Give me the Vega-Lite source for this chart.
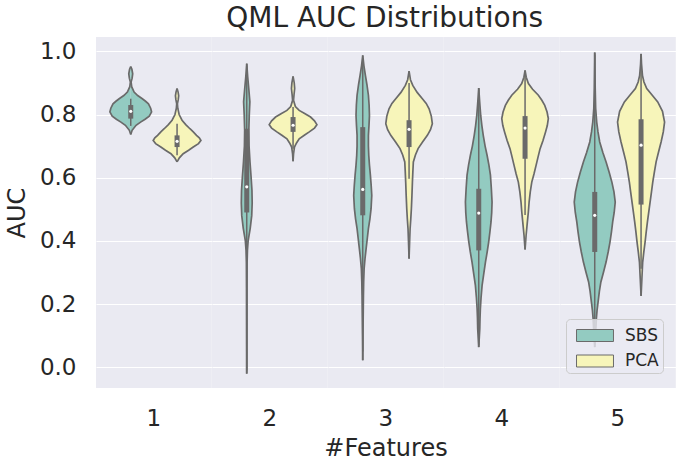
{
"$schema": "https://vega.github.io/schema/vega-lite/v6.json",
"padding": 5,
"title": {"text": "QML AUC Distributions", "fontSize": 28, "font": "DejaVu Sans", "fontWeight": "normal", "color": "#262626", "anchor": "middle", "offset": 4, "dx": 44},
"data": {"values": [
{"kind":"v","feature":1,"method":"SBS","auc":0.737,"w":0},
{"kind":"v","feature":1,"method":"SBS","auc":0.750,"w":0.012},
{"kind":"v","feature":1,"method":"SBS","auc":0.766,"w":0.046},
{"kind":"v","feature":1,"method":"SBS","auc":0.776,"w":0.085},
{"kind":"v","feature":1,"method":"SBS","auc":0.785,"w":0.124},
{"kind":"v","feature":1,"method":"SBS","auc":0.795,"w":0.160},
{"kind":"v","feature":1,"method":"SBS","auc":0.808,"w":0.180},
{"kind":"v","feature":1,"method":"SBS","auc":0.820,"w":0.172},
{"kind":"v","feature":1,"method":"SBS","auc":0.834,"w":0.153},
{"kind":"v","feature":1,"method":"SBS","auc":0.842,"w":0.128},
{"kind":"v","feature":1,"method":"SBS","auc":0.850,"w":0.100},
{"kind":"v","feature":1,"method":"SBS","auc":0.860,"w":0.060},
{"kind":"v","feature":1,"method":"SBS","auc":0.871,"w":0.029},
{"kind":"v","feature":1,"method":"SBS","auc":0.888,"w":0.008},
{"kind":"v","feature":1,"method":"SBS","auc":0.903,"w":0.003},
{"kind":"v","feature":1,"method":"SBS","auc":0.915,"w":0.012},
{"kind":"v","feature":1,"method":"SBS","auc":0.929,"w":0.017},
{"kind":"v","feature":1,"method":"SBS","auc":0.943,"w":0.010},
{"kind":"v","feature":1,"method":"SBS","auc":0.952,"w":0},
{"kind":"v","feature":1,"method":"PCA","auc":0.650,"w":0},
{"kind":"v","feature":1,"method":"PCA","auc":0.663,"w":0.020},
{"kind":"v","feature":1,"method":"PCA","auc":0.676,"w":0.053},
{"kind":"v","feature":1,"method":"PCA","auc":0.687,"w":0.100},
{"kind":"v","feature":1,"method":"PCA","auc":0.697,"w":0.140},
{"kind":"v","feature":1,"method":"PCA","auc":0.708,"w":0.185},
{"kind":"v","feature":1,"method":"PCA","auc":0.718,"w":0.206},
{"kind":"v","feature":1,"method":"PCA","auc":0.726,"w":0.192},
{"kind":"v","feature":1,"method":"PCA","auc":0.734,"w":0.168},
{"kind":"v","feature":1,"method":"PCA","auc":0.745,"w":0.140},
{"kind":"v","feature":1,"method":"PCA","auc":0.755,"w":0.111},
{"kind":"v","feature":1,"method":"PCA","auc":0.768,"w":0.075},
{"kind":"v","feature":1,"method":"PCA","auc":0.782,"w":0.043},
{"kind":"v","feature":1,"method":"PCA","auc":0.800,"w":0.018},
{"kind":"v","feature":1,"method":"PCA","auc":0.820,"w":0.006},
{"kind":"v","feature":1,"method":"PCA","auc":0.834,"w":0.003},
{"kind":"v","feature":1,"method":"PCA","auc":0.847,"w":0.010},
{"kind":"v","feature":1,"method":"PCA","auc":0.859,"w":0.014},
{"kind":"v","feature":1,"method":"PCA","auc":0.871,"w":0.009},
{"kind":"v","feature":1,"method":"PCA","auc":0.882,"w":0},
{"kind":"v","feature":2,"method":"SBS","auc":-0.02,"w":0},
{"kind":"v","feature":2,"method":"SBS","auc":0.05,"w":0.001},
{"kind":"v","feature":2,"method":"SBS","auc":0.15,"w":0.0015},
{"kind":"v","feature":2,"method":"SBS","auc":0.25,"w":0.002},
{"kind":"v","feature":2,"method":"SBS","auc":0.33,"w":0.003},
{"kind":"v","feature":2,"method":"SBS","auc":0.37,"w":0.006},
{"kind":"v","feature":2,"method":"SBS","auc":0.40,"w":0.012},
{"kind":"v","feature":2,"method":"SBS","auc":0.44,"w":0.030},
{"kind":"v","feature":2,"method":"SBS","auc":0.48,"w":0.043},
{"kind":"v","feature":2,"method":"SBS","auc":0.52,"w":0.047},
{"kind":"v","feature":2,"method":"SBS","auc":0.56,"w":0.045},
{"kind":"v","feature":2,"method":"SBS","auc":0.60,"w":0.038},
{"kind":"v","feature":2,"method":"SBS","auc":0.65,"w":0.028},
{"kind":"v","feature":2,"method":"SBS","auc":0.70,"w":0.020},
{"kind":"v","feature":2,"method":"SBS","auc":0.75,"w":0.018},
{"kind":"v","feature":2,"method":"SBS","auc":0.80,"w":0.022},
{"kind":"v","feature":2,"method":"SBS","auc":0.84,"w":0.027},
{"kind":"v","feature":2,"method":"SBS","auc":0.88,"w":0.018},
{"kind":"v","feature":2,"method":"SBS","auc":0.92,"w":0.008},
{"kind":"v","feature":2,"method":"SBS","auc":0.961,"w":0},
{"kind":"v","feature":2,"method":"PCA","auc":0.652,"w":0},
{"kind":"v","feature":2,"method":"PCA","auc":0.675,"w":0.004},
{"kind":"v","feature":2,"method":"PCA","auc":0.697,"w":0.012},
{"kind":"v","feature":2,"method":"PCA","auc":0.710,"w":0.030},
{"kind":"v","feature":2,"method":"PCA","auc":0.723,"w":0.053},
{"kind":"v","feature":2,"method":"PCA","auc":0.735,"w":0.100},
{"kind":"v","feature":2,"method":"PCA","auc":0.745,"w":0.140},
{"kind":"v","feature":2,"method":"PCA","auc":0.757,"w":0.185},
{"kind":"v","feature":2,"method":"PCA","auc":0.768,"w":0.206},
{"kind":"v","feature":2,"method":"PCA","auc":0.780,"w":0.185},
{"kind":"v","feature":2,"method":"PCA","auc":0.792,"w":0.151},
{"kind":"v","feature":2,"method":"PCA","auc":0.803,"w":0.100},
{"kind":"v","feature":2,"method":"PCA","auc":0.813,"w":0.053},
{"kind":"v","feature":2,"method":"PCA","auc":0.825,"w":0.020},
{"kind":"v","feature":2,"method":"PCA","auc":0.845,"w":0.004},
{"kind":"v","feature":2,"method":"PCA","auc":0.862,"w":0.008},
{"kind":"v","feature":2,"method":"PCA","auc":0.882,"w":0.014},
{"kind":"v","feature":2,"method":"PCA","auc":0.900,"w":0.010},
{"kind":"v","feature":2,"method":"PCA","auc":0.921,"w":0},
{"kind":"v","feature":3,"method":"SBS","auc":0.022,"w":0},
{"kind":"v","feature":3,"method":"SBS","auc":0.10,"w":0.002},
{"kind":"v","feature":3,"method":"SBS","auc":0.228,"w":0.006},
{"kind":"v","feature":3,"method":"SBS","auc":0.27,"w":0.008},
{"kind":"v","feature":3,"method":"SBS","auc":0.312,"w":0.012},
{"kind":"v","feature":3,"method":"SBS","auc":0.345,"w":0.020},
{"kind":"v","feature":3,"method":"SBS","auc":0.375,"w":0.029},
{"kind":"v","feature":3,"method":"SBS","auc":0.41,"w":0.040},
{"kind":"v","feature":3,"method":"SBS","auc":0.439,"w":0.049},
{"kind":"v","feature":3,"method":"SBS","auc":0.47,"w":0.062},
{"kind":"v","feature":3,"method":"SBS","auc":0.502,"w":0.072},
{"kind":"v","feature":3,"method":"SBS","auc":0.544,"w":0.078},
{"kind":"v","feature":3,"method":"SBS","auc":0.575,"w":0.073},
{"kind":"v","feature":3,"method":"SBS","auc":0.608,"w":0.066},
{"kind":"v","feature":3,"method":"SBS","auc":0.64,"w":0.058},
{"kind":"v","feature":3,"method":"SBS","auc":0.671,"w":0.052},
{"kind":"v","feature":3,"method":"SBS","auc":0.70,"w":0.049},
{"kind":"v","feature":3,"method":"SBS","auc":0.734,"w":0.049},
{"kind":"v","feature":3,"method":"SBS","auc":0.765,"w":0.054},
{"kind":"v","feature":3,"method":"SBS","auc":0.797,"w":0.058},
{"kind":"v","feature":3,"method":"SBS","auc":0.83,"w":0.055},
{"kind":"v","feature":3,"method":"SBS","auc":0.861,"w":0.049},
{"kind":"v","feature":3,"method":"SBS","auc":0.895,"w":0.036},
{"kind":"v","feature":3,"method":"SBS","auc":0.924,"w":0.023},
{"kind":"v","feature":3,"method":"SBS","auc":0.955,"w":0.010},
{"kind":"v","feature":3,"method":"SBS","auc":0.987,"w":0},
{"kind":"v","feature":3,"method":"PCA","auc":0.344,"w":0},
{"kind":"v","feature":3,"method":"PCA","auc":0.40,"w":0.005},
{"kind":"v","feature":3,"method":"PCA","auc":0.439,"w":0.009},
{"kind":"v","feature":3,"method":"PCA","auc":0.47,"w":0.015},
{"kind":"v","feature":3,"method":"PCA","auc":0.502,"w":0.020},
{"kind":"v","feature":3,"method":"PCA","auc":0.545,"w":0.025},
{"kind":"v","feature":3,"method":"PCA","auc":0.586,"w":0.029},
{"kind":"v","feature":3,"method":"PCA","auc":0.62,"w":0.033},
{"kind":"v","feature":3,"method":"PCA","auc":0.650,"w":0.037},
{"kind":"v","feature":3,"method":"PCA","auc":0.672,"w":0.055},
{"kind":"v","feature":3,"method":"PCA","auc":0.692,"w":0.078},
{"kind":"v","feature":3,"method":"PCA","auc":0.712,"w":0.115},
{"kind":"v","feature":3,"method":"PCA","auc":0.734,"w":0.158},
{"kind":"v","feature":3,"method":"PCA","auc":0.752,"w":0.185},
{"kind":"v","feature":3,"method":"PCA","auc":0.771,"w":0.201},
{"kind":"v","feature":3,"method":"PCA","auc":0.795,"w":0.192},
{"kind":"v","feature":3,"method":"PCA","auc":0.818,"w":0.173},
{"kind":"v","feature":3,"method":"PCA","auc":0.835,"w":0.148},
{"kind":"v","feature":3,"method":"PCA","auc":0.850,"w":0.115},
{"kind":"v","feature":3,"method":"PCA","auc":0.870,"w":0.070},
{"kind":"v","feature":3,"method":"PCA","auc":0.892,"w":0.032},
{"kind":"v","feature":3,"method":"PCA","auc":0.910,"w":0.012},
{"kind":"v","feature":3,"method":"PCA","auc":0.937,"w":0},
{"kind":"v","feature":4,"method":"SBS","auc":0.064,"w":0},
{"kind":"v","feature":4,"method":"SBS","auc":0.122,"w":0.009},
{"kind":"v","feature":4,"method":"SBS","auc":0.155,"w":0.011},
{"kind":"v","feature":4,"method":"SBS","auc":0.185,"w":0.014},
{"kind":"v","feature":4,"method":"SBS","auc":0.22,"w":0.020},
{"kind":"v","feature":4,"method":"SBS","auc":0.259,"w":0.029},
{"kind":"v","feature":4,"method":"SBS","auc":0.295,"w":0.043},
{"kind":"v","feature":4,"method":"SBS","auc":0.333,"w":0.058},
{"kind":"v","feature":4,"method":"SBS","auc":0.365,"w":0.073},
{"kind":"v","feature":4,"method":"SBS","auc":0.397,"w":0.086},
{"kind":"v","feature":4,"method":"SBS","auc":0.430,"w":0.097},
{"kind":"v","feature":4,"method":"SBS","auc":0.460,"w":0.106},
{"kind":"v","feature":4,"method":"SBS","auc":0.49,"w":0.112},
{"kind":"v","feature":4,"method":"SBS","auc":0.523,"w":0.115},
{"kind":"v","feature":4,"method":"SBS","auc":0.565,"w":0.109},
{"kind":"v","feature":4,"method":"SBS","auc":0.608,"w":0.101},
{"kind":"v","feature":4,"method":"SBS","auc":0.64,"w":0.088},
{"kind":"v","feature":4,"method":"SBS","auc":0.671,"w":0.072},
{"kind":"v","feature":4,"method":"SBS","auc":0.70,"w":0.055},
{"kind":"v","feature":4,"method":"SBS","auc":0.734,"w":0.039},
{"kind":"v","feature":4,"method":"SBS","auc":0.765,"w":0.027},
{"kind":"v","feature":4,"method":"SBS","auc":0.797,"w":0.017},
{"kind":"v","feature":4,"method":"SBS","auc":0.84,"w":0.008},
{"kind":"v","feature":4,"method":"SBS","auc":0.884,"w":0},
{"kind":"v","feature":4,"method":"PCA","auc":0.373,"w":0},
{"kind":"v","feature":4,"method":"PCA","auc":0.418,"w":0.009},
{"kind":"v","feature":4,"method":"PCA","auc":0.460,"w":0.020},
{"kind":"v","feature":4,"method":"PCA","auc":0.49,"w":0.028},
{"kind":"v","feature":4,"method":"PCA","auc":0.523,"w":0.035},
{"kind":"v","feature":4,"method":"PCA","auc":0.555,"w":0.045},
{"kind":"v","feature":4,"method":"PCA","auc":0.586,"w":0.058},
{"kind":"v","feature":4,"method":"PCA","auc":0.612,"w":0.077},
{"kind":"v","feature":4,"method":"PCA","auc":0.639,"w":0.095},
{"kind":"v","feature":4,"method":"PCA","auc":0.665,"w":0.112},
{"kind":"v","feature":4,"method":"PCA","auc":0.692,"w":0.130},
{"kind":"v","feature":4,"method":"PCA","auc":0.718,"w":0.155},
{"kind":"v","feature":4,"method":"PCA","auc":0.745,"w":0.177},
{"kind":"v","feature":4,"method":"PCA","auc":0.765,"w":0.192},
{"kind":"v","feature":4,"method":"PCA","auc":0.787,"w":0.201},
{"kind":"v","feature":4,"method":"PCA","auc":0.808,"w":0.190},
{"kind":"v","feature":4,"method":"PCA","auc":0.829,"w":0.170},
{"kind":"v","feature":4,"method":"PCA","auc":0.845,"w":0.145},
{"kind":"v","feature":4,"method":"PCA","auc":0.861,"w":0.115},
{"kind":"v","feature":4,"method":"PCA","auc":0.880,"w":0.065},
{"kind":"v","feature":4,"method":"PCA","auc":0.898,"w":0.029},
{"kind":"v","feature":4,"method":"PCA","auc":0.918,"w":0.010},
{"kind":"v","feature":4,"method":"PCA","auc":0.940,"w":0},
{"kind":"v","feature":5,"method":"SBS","auc":0.064,"w":0},
{"kind":"v","feature":5,"method":"SBS","auc":0.11,"w":0.008},
{"kind":"v","feature":5,"method":"SBS","auc":0.154,"w":0.014},
{"kind":"v","feature":5,"method":"SBS","auc":0.18,"w":0.020},
{"kind":"v","feature":5,"method":"SBS","auc":0.207,"w":0.029},
{"kind":"v","feature":5,"method":"SBS","auc":0.24,"w":0.040},
{"kind":"v","feature":5,"method":"SBS","auc":0.270,"w":0.053},
{"kind":"v","feature":5,"method":"SBS","auc":0.30,"w":0.075},
{"kind":"v","feature":5,"method":"SBS","auc":0.333,"w":0.098},
{"kind":"v","feature":5,"method":"SBS","auc":0.365,"w":0.116},
{"kind":"v","feature":5,"method":"SBS","auc":0.397,"w":0.132},
{"kind":"v","feature":5,"method":"SBS","auc":0.43,"w":0.145},
{"kind":"v","feature":5,"method":"SBS","auc":0.460,"w":0.155},
{"kind":"v","feature":5,"method":"SBS","auc":0.49,"w":0.168},
{"kind":"v","feature":5,"method":"SBS","auc":0.523,"w":0.177},
{"kind":"v","feature":5,"method":"SBS","auc":0.555,"w":0.166},
{"kind":"v","feature":5,"method":"SBS","auc":0.586,"w":0.148},
{"kind":"v","feature":5,"method":"SBS","auc":0.618,"w":0.124},
{"kind":"v","feature":5,"method":"SBS","auc":0.650,"w":0.098},
{"kind":"v","feature":5,"method":"SBS","auc":0.68,"w":0.070},
{"kind":"v","feature":5,"method":"SBS","auc":0.713,"w":0.043},
{"kind":"v","feature":5,"method":"SBS","auc":0.745,"w":0.028},
{"kind":"v","feature":5,"method":"SBS","auc":0.776,"w":0.017},
{"kind":"v","feature":5,"method":"SBS","auc":0.82,"w":0.008},
{"kind":"v","feature":5,"method":"SBS","auc":0.882,"w":0.004},
{"kind":"v","feature":5,"method":"SBS","auc":0.94,"w":0.002},
{"kind":"v","feature":5,"method":"SBS","auc":0.996,"w":0},
{"kind":"v","feature":5,"method":"PCA","auc":0.226,"w":0},
{"kind":"v","feature":5,"method":"PCA","auc":0.28,"w":0.007},
{"kind":"v","feature":5,"method":"PCA","auc":0.333,"w":0.014},
{"kind":"v","feature":5,"method":"PCA","auc":0.365,"w":0.024},
{"kind":"v","feature":5,"method":"PCA","auc":0.397,"w":0.035},
{"kind":"v","feature":5,"method":"PCA","auc":0.43,"w":0.045},
{"kind":"v","feature":5,"method":"PCA","auc":0.460,"w":0.055},
{"kind":"v","feature":5,"method":"PCA","auc":0.49,"w":0.066},
{"kind":"v","feature":5,"method":"PCA","auc":0.523,"w":0.078},
{"kind":"v","feature":5,"method":"PCA","auc":0.555,"w":0.090},
{"kind":"v","feature":5,"method":"PCA","auc":0.586,"w":0.101},
{"kind":"v","feature":5,"method":"PCA","auc":0.618,"w":0.115},
{"kind":"v","feature":5,"method":"PCA","auc":0.650,"w":0.130},
{"kind":"v","feature":5,"method":"PCA","auc":0.68,"w":0.150},
{"kind":"v","feature":5,"method":"PCA","auc":0.713,"w":0.173},
{"kind":"v","feature":5,"method":"PCA","auc":0.745,"w":0.192},
{"kind":"v","feature":5,"method":"PCA","auc":0.776,"w":0.203},
{"kind":"v","feature":5,"method":"PCA","auc":0.81,"w":0.185},
{"kind":"v","feature":5,"method":"PCA","auc":0.840,"w":0.144},
{"kind":"v","feature":5,"method":"PCA","auc":0.862,"w":0.095},
{"kind":"v","feature":5,"method":"PCA","auc":0.882,"w":0.049},
{"kind":"v","feature":5,"method":"PCA","auc":0.903,"w":0.025},
{"kind":"v","feature":5,"method":"PCA","auc":0.924,"w":0.012},
{"kind":"v","feature":5,"method":"PCA","auc":0.96,"w":0.004},
{"kind":"v","feature":5,"method":"PCA","auc":0.992,"w":0},
{"kind":"b","feature":1,"method":"SBS","lo":0.764,"q1":0.787,"med":0.810,"q3":0.830,"hi":0.850},
{"kind":"b","feature":1,"method":"PCA","lo":0.671,"q1":0.697,"med":0.715,"q3":0.734,"hi":0.771},
{"kind":"b","feature":2,"method":"SBS","lo":-0.01,"q1":0.49,"med":0.571,"q3":0.755,"hi":0.955},
{"kind":"b","feature":2,"method":"PCA","lo":0.692,"q1":0.745,"med":0.766,"q3":0.792,"hi":0.824},
{"kind":"b","feature":3,"method":"SBS","lo":0.05,"q1":0.481,"med":0.563,"q3":0.760,"hi":0.975},
{"kind":"b","feature":3,"method":"PCA","lo":0.597,"q1":0.697,"med":0.753,"q3":0.782,"hi":0.90},
{"kind":"b","feature":4,"method":"SBS","lo":0.07,"q1":0.370,"med":0.488,"q3":0.565,"hi":0.88},
{"kind":"b","feature":4,"method":"PCA","lo":0.482,"q1":0.660,"med":0.757,"q3":0.795,"hi":0.93},
{"kind":"b","feature":5,"method":"SBS","lo":0.07,"q1":0.365,"med":0.481,"q3":0.555,"hi":0.99},
{"kind":"b","feature":5,"method":"PCA","lo":0.312,"q1":0.515,"med":0.703,"q3":0.785,"hi":0.985}
]},
"facet": {"column": {"field": "feature", "type": "ordinal", "title": "#Features",
  "header": {"labelOrient": "bottom", "titleOrient": "bottom", "labelFontSize": 23, "titleFontSize": 24, "labelFont": "DejaVu Sans", "titleFont": "DejaVu Sans", "labelColor": "#262626", "titleColor": "#262626", "titleFontWeight": "normal", "labelPadding": 20, "titlePadding": -4}}},
"spacing": 0,
"spec": {
  "width": 115.8,
  "height": 351,
  "layer": [
    {"transform": [{"filter": "datum.kind == 'v' && datum.method == 'SBS'"}],
     "mark": {"type": "area", "orient": "horizontal", "opacity": 1, "line": {"stroke": "#6a6a6a", "strokeWidth": 1.7}},
     "encoding": {
       "y": {"field": "auc", "type": "quantitative", "scale": {"domain": [-0.0655, 1.0453], "nice": false, "zero": false},
             "axis": {"values": [0, 0.2, 0.4, 0.6, 0.8, 1.0], "format": ".1f", "title": "AUC"}},
       "x": {"field": "w", "type": "quantitative", "stack": null, "scale": {"domain": [-0.3, 0.7], "nice": false}, "axis": null},
       "x2": {"datum": 0},
       "order": {"field": "auc", "type": "quantitative"},
       "fill": {"field": "method", "type": "nominal", "scale": {"domain": ["SBS", "PCA"], "range": ["#93CBC1", "#F7F5BA"]},
         "legend": {"title": null, "orient": "none", "legendX": 470, "legendY": 282, "symbolType": "M-1.54,-0.5L1.54,-0.5L1.54,0.5L-1.54,0.5Z", "symbolSize": 576, "symbolOffset": 12.5, "symbolStrokeColor": "#6a6a6a", "symbolStrokeWidth": 1, "symbolOpacity": 1, "labelFontSize": 17, "labelFont": "DejaVu Sans", "labelColor": "#262626", "fillColor": "rgba(234,234,242,0.8)", "strokeColor": "#cccccc", "cornerRadius": 4, "padding": 4, "rowPadding": 4.5, "labelOffset": 17.5}}
     }},
    {"transform": [{"filter": "datum.kind == 'v' && datum.method == 'SBS'"}],
     "mark": {"type": "area", "orient": "horizontal", "opacity": 1, "line": {"stroke": "#6a6a6a", "strokeWidth": 1.7}},
     "encoding": {
       "y": {"field": "auc", "type": "quantitative"},
       "x": {"field": "w", "type": "quantitative", "stack": null, "scale": {"domain": [-0.7, 0.3], "reverse": true, "nice": false}, "axis": null},
       "x2": {"datum": 0},
       "order": {"field": "auc", "type": "quantitative"},
       "fill": {"field": "method", "type": "nominal"}
     }},
    {"transform": [{"filter": "datum.kind == 'v' && datum.method == 'PCA'"}],
     "mark": {"type": "area", "orient": "horizontal", "opacity": 1, "line": {"stroke": "#6a6a6a", "strokeWidth": 1.7}},
     "encoding": {
       "y": {"field": "auc", "type": "quantitative"},
       "x": {"field": "w", "type": "quantitative", "stack": null, "scale": {"domain": [-0.7, 0.3], "nice": false}, "axis": null},
       "x2": {"datum": 0},
       "order": {"field": "auc", "type": "quantitative"},
       "fill": {"field": "method", "type": "nominal"}
     }},
    {"transform": [{"filter": "datum.kind == 'v' && datum.method == 'PCA'"}],
     "mark": {"type": "area", "orient": "horizontal", "opacity": 1, "line": {"stroke": "#6a6a6a", "strokeWidth": 1.7}},
     "encoding": {
       "y": {"field": "auc", "type": "quantitative"},
       "x": {"field": "w", "type": "quantitative", "stack": null, "scale": {"domain": [-0.3, 0.7], "reverse": true, "nice": false}, "axis": null},
       "x2": {"datum": 0},
       "order": {"field": "auc", "type": "quantitative"},
       "fill": {"field": "method", "type": "nominal"}
     }},
    {"transform": [{"filter": "datum.kind == 'b' && datum.method == 'SBS'"}],
     "mark": {"type": "rule", "color": "#6a6a6a", "strokeWidth": 1.5},
     "encoding": {
       "x": {"datum": 0, "type": "quantitative", "scale": {"domain": [-0.3, 0.7], "nice": false}, "axis": null},
       "y": {"field": "lo", "type": "quantitative"}, "y2": {"field": "hi"}
     }},
    {"transform": [{"filter": "datum.kind == 'b' && datum.method == 'SBS'"}],
     "mark": {"type": "rule", "color": "#6a6a6a", "strokeWidth": 5},
     "encoding": {
       "x": {"datum": 0, "type": "quantitative", "scale": {"domain": [-0.3, 0.7], "nice": false}, "axis": null},
       "y": {"field": "q1", "type": "quantitative"}, "y2": {"field": "q3"}
     }},
    {"transform": [{"filter": "datum.kind == 'b' && datum.method == 'SBS'"}],
     "mark": {"type": "point", "filled": true, "color": "white", "size": 10, "opacity": 1},
     "encoding": {
       "x": {"datum": 0, "type": "quantitative", "scale": {"domain": [-0.3, 0.7], "nice": false}, "axis": null},
       "y": {"field": "med", "type": "quantitative"}
     }},
    {"transform": [{"filter": "datum.kind == 'b' && datum.method == 'PCA'"}],
     "mark": {"type": "rule", "color": "#6a6a6a", "strokeWidth": 1.5},
     "encoding": {
       "x": {"datum": 0, "type": "quantitative", "scale": {"domain": [-0.7, 0.3], "nice": false}, "axis": null},
       "y": {"field": "lo", "type": "quantitative"}, "y2": {"field": "hi"}
     }},
    {"transform": [{"filter": "datum.kind == 'b' && datum.method == 'PCA'"}],
     "mark": {"type": "rule", "color": "#6a6a6a", "strokeWidth": 5},
     "encoding": {
       "x": {"datum": 0, "type": "quantitative", "scale": {"domain": [-0.7, 0.3], "nice": false}, "axis": null},
       "y": {"field": "q1", "type": "quantitative"}, "y2": {"field": "q3"}
     }},
    {"transform": [{"filter": "datum.kind == 'b' && datum.method == 'PCA'"}],
     "mark": {"type": "point", "filled": true, "color": "white", "size": 10, "opacity": 1},
     "encoding": {
       "x": {"datum": 0, "type": "quantitative", "scale": {"domain": [-0.7, 0.3], "nice": false}, "axis": null},
       "y": {"field": "med", "type": "quantitative"}
     }}
  ],
  "resolve": {"scale": {"x": "independent"}}
},
"config": {
  "font": "DejaVu Sans",
  "background": "white",
  "view": {"stroke": null, "fill": "#EAEAF2"},
  "axisY": {"ticks": false, "domain": false, "gridColor": "white", "gridWidth": 1.2, "labelFontSize": 23, "labelColor": "#262626", "labelFont": "DejaVu Sans", "labelPadding": 20, "titleFontSize": 24, "titleColor": "#262626", "titleFont": "DejaVu Sans", "titleFontWeight": "normal", "titlePadding": 10}
}
}
